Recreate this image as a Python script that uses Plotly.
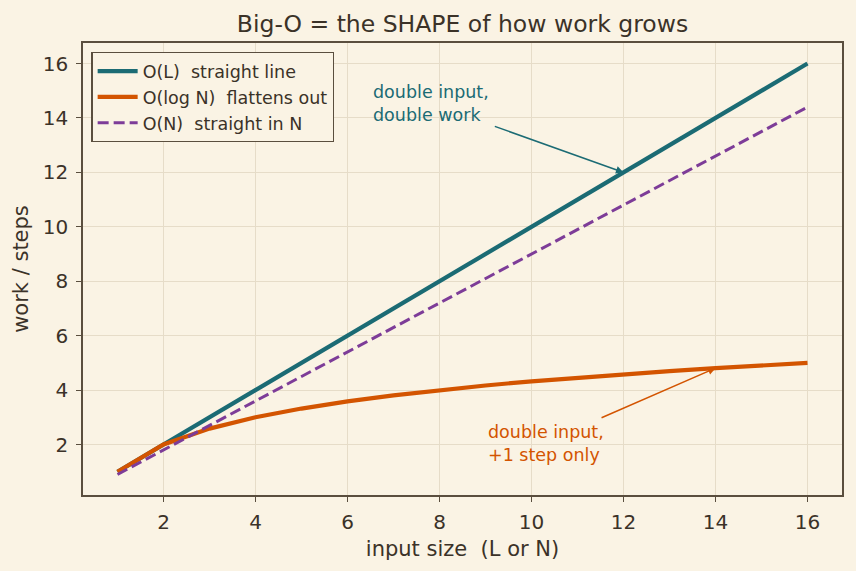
import plotly.graph_objects as go

# ---- data ----
n_values = [1, 2, 3, 4, 5, 6, 7, 8, 9, 10, 11, 12, 13, 14, 15, 16]
work_linear_L = [1, 2, 3, 4, 5, 6, 7, 8, 9, 10, 11, 12, 13, 14, 15, 16]
work_log_N = [1.0, 2.0, 2.585, 3.0, 3.322, 3.585, 3.807, 4.0, 4.170, 4.322,
              4.459, 4.585, 4.700, 4.807, 4.907, 5.0]
work_linear_N = [0.9, 1.8, 2.7, 3.6, 4.5, 5.4, 6.3, 7.2, 8.1, 9.0,
                 9.9, 10.8, 11.7, 12.6, 13.5, 14.4]
series_names = ["O(L)\u00a0 straight line", "O(log N)\u00a0 flattens out", "O(N)\u00a0 straight in N"]
x_ticks = [2, 4, 6, 8, 10, 12, 14, 16]
y_ticks = [2, 4, 6, 8, 10, 12, 14, 16]

BG = "#faf3e4"
TEXT = "#3b3228"
FRAME = "#5a4e3e"
GRID = "#e6dcc8"
TEAL = "#1b6b74"
ORANGE = "#d35400"
PURPLE = "#7d3c98"
FONT = "DejaVu Sans"

fig = go.Figure()
fig.add_trace(go.Scatter(x=n_values, y=work_linear_L, mode="lines", name=series_names[0],
                         line=dict(color=TEAL, width=4.2)))
fig.add_trace(go.Scatter(x=n_values, y=work_log_N, mode="lines", name=series_names[1],
                         line=dict(color=ORANGE, width=4.2)))
fig.add_trace(go.Scatter(x=n_values, y=work_linear_N, mode="lines", name=series_names[2],
                         line=dict(color=PURPLE, width=3.0, dash="11px,5px")))

# annotations: text and arrows separately
fig.add_annotation(x=6.5, y=14.55, xref="x", yref="y", text="double input,<br>double work",
                   showarrow=False, xanchor="left", yanchor="middle", align="left",
                   font=dict(family=FONT, size=17.5, color=TEAL))
fig.add_annotation(x=12, y=12, ax=9.17, ay=13.71, xref="x", yref="y", axref="x", ayref="y",
                   text="", showarrow=True, arrowhead=2, arrowsize=1, arrowwidth=1.5,
                   arrowcolor=TEAL)
fig.add_annotation(x=9.0, y=2.05, xref="x", yref="y", text="double input,<br>+1 step only",
                   showarrow=False, xanchor="left", yanchor="middle", align="left",
                   font=dict(family=FONT, size=17.5, color=ORANGE))
fig.add_annotation(x=14, y=4.807, ax=11.49, ay=2.96, xref="x", yref="y", axref="x", ayref="y",
                   text="", showarrow=True, arrowhead=2, arrowsize=1, arrowwidth=1.5,
                   arrowcolor=ORANGE)

fig.update_layout(
    width=856, height=571,
    paper_bgcolor=BG, plot_bgcolor=BG,
    margin=dict(l=83, r=14, t=43, b=76),
    font=dict(family=FONT, color=TEXT, size=20),
    title=dict(text="Big-O = the SHAPE of how work grows", x=0.5, xanchor="center", xref="paper",
               y=1 - 24 / 571, yanchor="middle", yref="container",
               font=dict(family=FONT, size=23.5, color=TEXT)),
    showlegend=True,
    legend=dict(x=0.011, y=0.98, xanchor="left", yanchor="top",
                bgcolor=BG, bordercolor=FRAME, borderwidth=1.3,
                font=dict(family=FONT, size=17.5, color=TEXT),
                tracegroupgap=0, itemwidth=40),
)
fig.update_xaxes(range=[0.25, 16.75], tickvals=x_ticks, ticktext=[str(v) for v in x_ticks],
                 showgrid=True, gridcolor=GRID, gridwidth=1,
                 showline=True, linecolor=FRAME, linewidth=1.5, mirror=True,
                 ticks="outside", ticklen=5, tickcolor=FRAME, tickwidth=1.3,
                 ticklabelstandoff=3,
                 zeroline=False, tickfont=dict(size=20, color=TEXT),
                 title=dict(text="input size\u00a0 (L or N)", font=dict(size=21, color=TEXT), standoff=9))
fig.update_yaxes(range=[0.145, 16.755], tickvals=y_ticks, ticktext=[str(v) for v in y_ticks],
                 showgrid=True, gridcolor=GRID, gridwidth=1,
                 showline=True, linecolor=FRAME, linewidth=1.5, mirror=True,
                 ticks="outside", ticklen=5, tickcolor=FRAME, tickwidth=1.3,
                 ticklabelstandoff=4,
                 zeroline=False, tickfont=dict(size=20, color=TEXT),
                 title=dict(text="work / steps", font=dict(size=21, color=TEXT), standoff=8))

fig.write_html("out.html")
